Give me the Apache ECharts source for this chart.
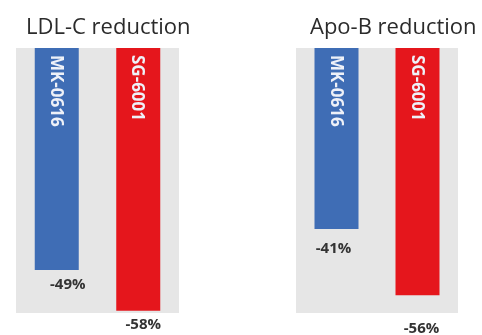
<!DOCTYPE html>
<html><head><meta charset="utf-8">
<script src="https://cdn.jsdelivr.net/npm/echarts@6/dist/echarts.min.js"></script>
<style>html,body{margin:0;padding:0;background:#fff}#c{width:482px;height:335px}</style>
</head><body><div id="c"></div>
<script>
const titles = ['LDL-C reduction', 'Apo-B reduction'];
const drugs = ['MK-0616', 'SG-6001'];
const ldlValues = [-49, -58];
const apoBValues = [-41, -56];

const barColors = ['#3f6db5', '#e5161c'];
const labelOffsets = [
  [[11, 2], [5, 1]],
  [[-3, 7], [4, 21]]
];
const axisMins = [-58.5, -60];
const grids = [
  {left: 16, top: 48, width: 163, height: 265},
  {left: 296, top: 48, width: 162, height: 265}
];
const allValues = [ldlValues, apoBValues];
const font = '"Open Sans", "DejaVu Sans", sans-serif';

const series = [];
allValues.forEach((vals, g) => {
  series.push({
    type: 'bar', xAxisIndex: g, yAxisIndex: g, barWidth: 44, barGap: '-100%',
    data: vals.map((v, i) => ({value: v, itemStyle: {color: barColors[i]}})),
    label: {
      show: true, position: 'insideTop', distance: 7, rotate: -90,
      align: 'left', verticalAlign: 'middle', offset: [0, 1],
      formatter: '{b}', color: '#eef1f8', fontSize: 17, fontWeight: 'bold', fontFamily: font
    },
    silent: true
  });
  series.push({
    type: 'bar', xAxisIndex: g, yAxisIndex: g, barWidth: 44, barGap: '-100%',
    data: vals.map((v, i) => ({value: v, label: {offset: labelOffsets[g][i]}})),
    itemStyle: {color: 'rgba(0,0,0,0)'},
    label: {
      show: true, position: 'bottom', distance: 5,
      formatter: p => p.value + '%', color: '#333', fontSize: 15,
      fontWeight: 'bold', fontFamily: font
    },
    silent: true
  });
});

const chart = echarts.init(document.getElementById('c'));
chart.setOption({
  animation: false,
  title: [
    {text: titles[0], left: 21, top: 12, textStyle: {fontSize: 22, fontWeight: 'normal', color: '#2b2b2b', fontFamily: font}},
    {text: titles[1], left: 305, top: 12, textStyle: {fontSize: 22, fontWeight: 'normal', color: '#2b2b2b', fontFamily: font}}
  ],
  grid: grids.map(g => Object.assign({show: true, backgroundColor: '#e6e6e6', borderWidth: 0}, g)),
  xAxis: grids.map((g, i) => ({gridIndex: i, type: 'category', data: drugs, show: false})),
  yAxis: grids.map((g, i) => ({gridIndex: i, type: 'value', min: axisMins[i], max: 0, show: false})),
  series: series
});
</script></body></html>
